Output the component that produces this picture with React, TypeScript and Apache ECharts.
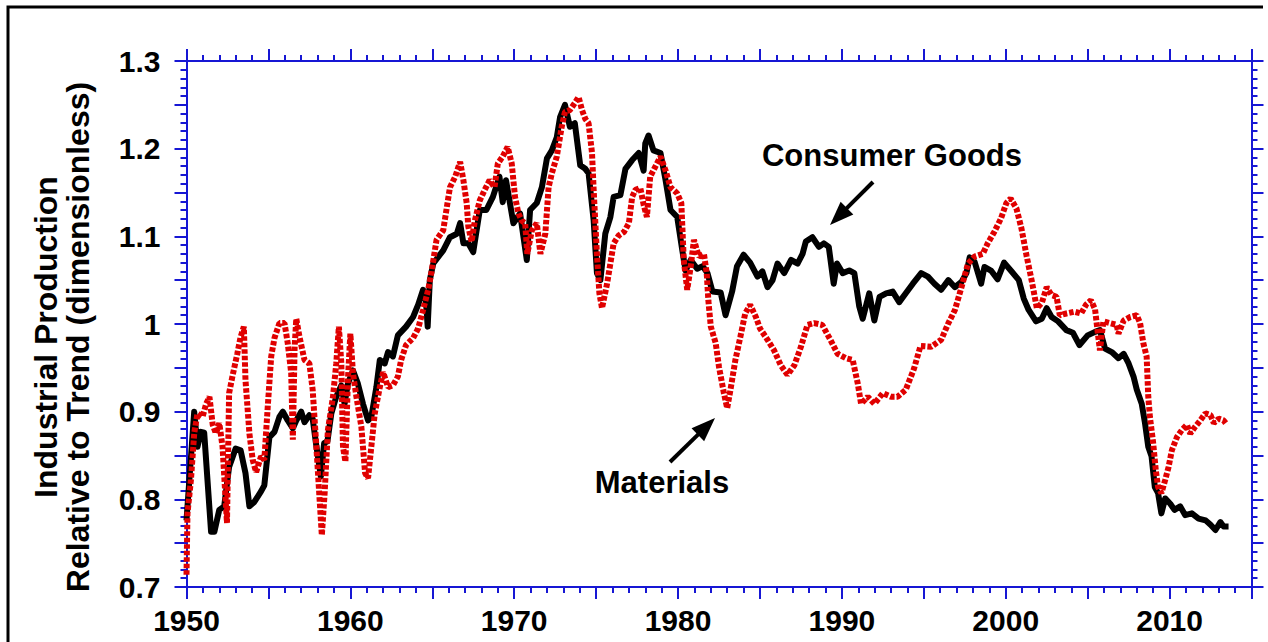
import React, { useEffect, useRef } from "react";
import * as echarts from "echarts";

// ---- Data (year, value) ----
const consumerGoods: [number, number][] = [
  [1950.0, 0.776], [1950.47, 0.9], [1950.67, 0.86], [1950.88, 0.877], [1951.08, 0.876],
  [1951.5, 0.763], [1951.7, 0.763], [1952.0, 0.788], [1952.3, 0.792], [1952.6, 0.837],
  [1953.0, 0.858], [1953.3, 0.856], [1953.6, 0.83], [1953.84, 0.792], [1954.14, 0.797],
  [1954.55, 0.809], [1954.75, 0.816], [1955.06, 0.871], [1955.37, 0.877], [1955.67, 0.894],
  [1955.88, 0.9], [1956.18, 0.89], [1956.49, 0.881], [1956.7, 0.89], [1957.0, 0.9],
  [1957.2, 0.888], [1957.5, 0.896], [1957.7, 0.892], [1957.9, 0.864], [1958.2, 0.826],
  [1958.4, 0.864], [1958.6, 0.866], [1958.84, 0.898], [1959.14, 0.917], [1959.45, 0.93],
  [1959.65, 0.909], [1959.85, 0.932], [1960.16, 0.947], [1960.46, 0.932], [1960.77, 0.909],
  [1961.08, 0.89], [1961.28, 0.894], [1961.59, 0.928], [1961.8, 0.959], [1962.1, 0.955],
  [1962.3, 0.968], [1962.6, 0.963], [1962.9, 0.987], [1963.4, 0.997], [1963.83, 1.008],
  [1964.14, 1.022], [1964.44, 1.039], [1964.6, 1.03], [1964.72, 0.997], [1964.85, 1.05],
  [1965.06, 1.069], [1965.67, 1.084], [1966.08, 1.099], [1966.5, 1.103], [1966.7, 1.115],
  [1966.9, 1.092], [1967.2, 1.092], [1967.5, 1.082], [1967.9, 1.13], [1968.3, 1.13],
  [1968.7, 1.145], [1969.1, 1.168], [1969.3, 1.139], [1969.5, 1.164], [1969.95, 1.115],
  [1970.36, 1.126], [1970.77, 1.073], [1970.97, 1.13], [1971.38, 1.138], [1971.69, 1.156],
  [1972.0, 1.189], [1972.3, 1.198], [1972.6, 1.213], [1972.8, 1.236], [1973.1, 1.25],
  [1973.4, 1.225], [1973.7, 1.229], [1974.03, 1.181], [1974.34, 1.177], [1974.54, 1.172],
  [1974.85, 1.118], [1975.05, 1.058], [1975.26, 1.05], [1975.56, 1.103], [1975.87, 1.122],
  [1976.07, 1.145], [1976.48, 1.147], [1976.79, 1.177], [1977.2, 1.187], [1977.6, 1.195],
  [1977.9, 1.175], [1978.0, 1.206], [1978.2, 1.215], [1978.5, 1.198], [1978.93, 1.195],
  [1979.24, 1.164], [1979.54, 1.13], [1979.95, 1.122], [1980.26, 1.084], [1980.46, 1.061],
  [1980.77, 1.073], [1981.17, 1.063], [1981.5, 1.066], [1981.8, 1.058], [1982.1, 1.037],
  [1982.6, 1.036], [1982.9, 1.01], [1983.3, 1.037], [1983.6, 1.066], [1984.0, 1.079],
  [1984.4, 1.07], [1984.85, 1.054], [1985.15, 1.06], [1985.46, 1.042], [1985.77, 1.05],
  [1986.07, 1.069], [1986.48, 1.058], [1986.9, 1.073], [1987.3, 1.069], [1987.6, 1.08],
  [1987.8, 1.094], [1988.2, 1.099], [1988.6, 1.088], [1988.9, 1.092], [1989.2, 1.088],
  [1989.5, 1.046], [1989.7, 1.069], [1990.05, 1.058], [1990.45, 1.061], [1990.76, 1.058],
  [1991.06, 1.02], [1991.27, 1.006], [1991.67, 1.035], [1991.98, 1.004], [1992.3, 1.031],
  [1992.7, 1.035], [1993.1, 1.037], [1993.5, 1.025], [1993.9, 1.035], [1994.33, 1.046],
  [1994.84, 1.058], [1995.25, 1.054], [1995.65, 1.046], [1996.06, 1.039], [1996.5, 1.05],
  [1996.9, 1.042], [1997.3, 1.048], [1997.6, 1.058], [1997.8, 1.076], [1998.1, 1.071],
  [1998.5, 1.046], [1998.7, 1.065], [1999.1, 1.061], [1999.5, 1.051], [1999.9, 1.07],
  [2000.4, 1.059], [2000.8, 1.05], [2001.1, 1.029], [2001.4, 1.016], [2001.85, 1.003],
  [2002.2, 1.006], [2002.5, 1.018], [2002.8, 1.008], [2003.2, 1.003], [2003.7, 0.993],
  [2004.1, 0.99], [2004.5, 0.976], [2005.0, 0.987], [2005.45, 0.991], [2005.75, 0.993],
  [2006.06, 0.972], [2006.47, 0.968], [2006.88, 0.961], [2007.2, 0.966], [2007.5, 0.955],
  [2007.8, 0.94], [2008.0, 0.925], [2008.3, 0.909], [2008.5, 0.887], [2008.7, 0.86],
  [2008.9, 0.849], [2009.1, 0.814], [2009.3, 0.807], [2009.5, 0.784], [2009.73, 0.801],
  [2010.04, 0.795], [2010.3, 0.788], [2010.65, 0.792], [2010.95, 0.782], [2011.36, 0.784],
  [2011.77, 0.778], [2012.2, 0.776], [2012.5, 0.771], [2012.8, 0.765], [2013.1, 0.774],
  [2013.3, 0.769], [2013.6, 0.769],
];

const materials: [number, number][] = [
  [1950.0, 0.714], [1950.06, 0.784], [1950.27, 0.822], [1950.47, 0.875], [1950.67, 0.898],
  [1950.98, 0.894], [1951.2, 0.909], [1951.4, 0.917], [1951.6, 0.885], [1951.8, 0.875],
  [1952.0, 0.887], [1952.2, 0.86], [1952.47, 0.773], [1952.6, 0.921], [1952.8, 0.94],
  [1953.1, 0.966], [1953.3, 0.985], [1953.5, 0.997], [1953.6, 0.936], [1953.84, 0.875],
  [1954.04, 0.845], [1954.25, 0.831], [1954.55, 0.849], [1954.75, 0.845], [1954.96, 0.906],
  [1955.17, 0.963], [1955.37, 0.984], [1955.67, 1.001], [1955.98, 1.001], [1956.18, 0.978],
  [1956.39, 0.944], [1956.49, 0.868], [1956.6, 0.974], [1956.7, 1.006], [1956.9, 0.985],
  [1957.2, 0.959], [1957.5, 0.955], [1957.7, 0.925], [1957.9, 0.868], [1958.1, 0.807],
  [1958.26, 0.759], [1958.43, 0.807], [1958.63, 0.879], [1958.94, 0.917], [1959.14, 0.955],
  [1959.3, 0.997], [1959.45, 0.955], [1959.55, 0.86], [1959.7, 0.843], [1959.85, 0.936],
  [1960.0, 0.989], [1960.16, 0.944], [1960.37, 0.917], [1960.67, 0.883], [1960.9, 0.83],
  [1961.08, 0.824], [1961.28, 0.86], [1961.49, 0.898], [1961.8, 0.928], [1962.0, 0.945],
  [1962.3, 0.928], [1962.6, 0.93], [1962.9, 0.94], [1963.1, 0.959], [1963.4, 0.976],
  [1963.83, 0.984], [1964.14, 0.995], [1964.44, 1.016], [1964.75, 1.039], [1964.96, 1.06],
  [1965.26, 1.096], [1965.67, 1.107], [1966.08, 1.156], [1966.4, 1.168], [1966.7, 1.185],
  [1966.9, 1.164], [1967.1, 1.138], [1967.2, 1.111], [1967.4, 1.094], [1967.6, 1.118],
  [1967.9, 1.141], [1968.2, 1.153], [1968.5, 1.164], [1968.8, 1.156], [1969.0, 1.183],
  [1969.3, 1.191], [1969.6, 1.202], [1969.85, 1.183], [1970.05, 1.145], [1970.26, 1.126],
  [1970.46, 1.118], [1970.67, 1.115], [1970.8, 1.08], [1971.08, 1.107], [1971.38, 1.115],
  [1971.6, 1.08], [1971.9, 1.103], [1972.1, 1.156], [1972.3, 1.172], [1972.6, 1.191],
  [1972.9, 1.225], [1973.1, 1.242], [1973.4, 1.244], [1973.7, 1.252], [1973.93, 1.259],
  [1974.14, 1.244], [1974.34, 1.234], [1974.54, 1.229], [1974.75, 1.195], [1974.85, 1.153],
  [1975.05, 1.08], [1975.2, 1.035], [1975.36, 1.018], [1975.67, 1.046], [1975.87, 1.069],
  [1976.07, 1.092], [1976.38, 1.101], [1976.7, 1.105], [1977.0, 1.115], [1977.2, 1.145],
  [1977.4, 1.153], [1977.7, 1.155], [1977.9, 1.136], [1978.1, 1.122], [1978.3, 1.168],
  [1978.6, 1.179], [1978.93, 1.191], [1979.24, 1.175], [1979.54, 1.156], [1979.95, 1.149],
  [1980.2, 1.138], [1980.35, 1.073], [1980.56, 1.039], [1980.77, 1.065], [1980.97, 1.096],
  [1981.27, 1.077], [1981.58, 1.08], [1981.75, 1.058], [1981.85, 1.027], [1982.0, 0.997],
  [1982.3, 0.978], [1982.5, 0.951], [1982.8, 0.921], [1983.0, 0.904], [1983.2, 0.925],
  [1983.5, 0.959], [1983.8, 0.985], [1984.1, 1.012], [1984.4, 1.022], [1984.75, 1.008],
  [1985.0, 0.995], [1985.46, 0.982], [1985.86, 0.97], [1986.27, 0.953], [1986.68, 0.942],
  [1987.1, 0.953], [1987.5, 0.974], [1987.9, 0.999], [1988.3, 1.001], [1988.8, 0.999],
  [1989.3, 0.982], [1989.74, 0.966], [1990.25, 0.961], [1990.66, 0.959], [1990.97, 0.932],
  [1991.17, 0.909], [1991.58, 0.917], [1991.98, 0.909], [1992.5, 0.921], [1993.0, 0.917],
  [1993.4, 0.917], [1993.9, 0.925], [1994.4, 0.949], [1994.8, 0.975], [1995.45, 0.974],
  [1996.06, 0.982], [1996.5, 1.001], [1996.9, 1.016], [1997.3, 1.042], [1997.7, 1.069],
  [1998.1, 1.077], [1998.6, 1.08], [1998.9, 1.092], [1999.3, 1.105], [1999.7, 1.12],
  [2000.04, 1.138], [2000.3, 1.143], [2000.65, 1.132], [2000.96, 1.109], [2001.27, 1.078],
  [2001.6, 1.048], [2001.9, 1.018], [2002.2, 1.024], [2002.5, 1.042], [2002.8, 1.033],
  [2003.1, 1.031], [2003.3, 1.01], [2003.7, 1.012], [2004.2, 1.014], [2004.6, 1.012],
  [2004.9, 1.022], [2005.2, 1.027], [2005.45, 1.017], [2005.65, 0.985], [2005.75, 0.97],
  [2005.96, 1.003], [2006.37, 1.001], [2006.77, 0.999], [2006.88, 0.989], [2007.2, 1.004],
  [2007.6, 1.008], [2008.0, 1.01], [2008.2, 1.001], [2008.4, 0.978], [2008.6, 0.963],
  [2008.7, 0.917], [2008.8, 0.894], [2009.0, 0.864], [2009.16, 0.833], [2009.3, 0.814],
  [2009.5, 0.807], [2009.73, 0.822], [2009.94, 0.837], [2010.14, 0.856], [2010.45, 0.871],
  [2010.75, 0.879], [2011.06, 0.885], [2011.26, 0.875], [2011.57, 0.883], [2011.87, 0.89],
  [2012.18, 0.898], [2012.5, 0.896], [2012.7, 0.887], [2013.0, 0.892], [2013.3, 0.89],
  [2013.5, 0.885],
];

const xRange = { min: 1950, max: 2015, labelStep: 10, tickStep: 5 };
const yRange = { min: 0.7, max: 1.3, labelStep: 0.1, tickStep: 0.05 };
const yTitleLines = ["Industrial Production", "Relative to Trend (dimensionless)"];
const annotationLabels = { consumer: "Consumer Goods", materials: "Materials" };

const AXIS_BLUE = "#1717d4";
const FONT = "Liberation Sans, Arial, Helvetica, sans-serif";

function xLabel(v: number) {
  return Math.abs(v % xRange.labelStep) < 1e-6 ? String(Math.round(v)) : "";
}
function yLabel(v: number) {
  const k = v / yRange.labelStep;
  if (Math.abs(k - Math.round(k)) > 1e-6) return "";
  return String(Math.round(v * 10) / 10);
}

function makeXAxis(position: "bottom" | "top", showLabel: boolean) {
  return {
    type: "value",
    position,
    min: xRange.min,
    max: xRange.max,
    interval: xRange.tickStep,
    axisLine: { show: true, onZero: false, lineStyle: { color: AXIS_BLUE, width: 2 } },
    axisTick: { show: true, length: 12, lineStyle: { color: AXIS_BLUE, width: 2 } },
    minorTick: { show: true, splitNumber: 5, length: 6, lineStyle: { color: AXIS_BLUE, width: 2 } },
    splitLine: { show: false },
    minorSplitLine: { show: false },
    axisLabel: {
      show: showLabel,
      formatter: xLabel,
      color: "#000",
      fontFamily: FONT,
      fontWeight: "bold",
      fontSize: 30,
      margin: 18,
    },
  };
}

function makeYAxis(position: "left" | "right", showLabel: boolean) {
  return {
    type: "value",
    position,
    min: yRange.min,
    max: yRange.max,
    interval: yRange.tickStep,
    axisLine: { show: true, onZero: false, lineStyle: { color: AXIS_BLUE, width: 2 } },
    axisTick: { show: true, length: 12, lineStyle: { color: AXIS_BLUE, width: 2 } },
    minorTick: { show: true, splitNumber: 5, length: 6, lineStyle: { color: AXIS_BLUE, width: 2 } },
    splitLine: { show: false },
    minorSplitLine: { show: false },
    axisLabel: {
      show: showLabel,
      formatter: yLabel,
      color: "#000",
      fontFamily: FONT,
      fontWeight: "bold",
      fontSize: 30,
      margin: 26,
    },
  };
}

function arrow(tail: [number, number], tip: [number, number], headLen: number, halfW: number) {
  const dx = tip[0] - tail[0];
  const dy = tip[1] - tail[1];
  const len = Math.hypot(dx, dy);
  const ux = dx / len;
  const uy = dy / len;
  const bx = tip[0] - ux * headLen;
  const by = tip[1] - uy * headLen;
  const px = -uy;
  const py = ux;
  return [
    {
      type: "line",
      shape: { x1: tail[0], y1: tail[1], x2: bx + ux * 2, y2: by + uy * 2 },
      style: { stroke: "#000", lineWidth: 4 },
    },
    {
      type: "polygon",
      shape: {
        points: [
          [tip[0], tip[1]],
          [bx + px * halfW, by + py * halfW],
          [bx - px * halfW, by - py * halfW],
        ],
      },
      style: { fill: "#000" },
    },
  ];
}

export default function App() {
  const ref = useRef<HTMLDivElement>(null);

  useEffect(() => {
    document.body.style.margin = "0";
    const chart = echarts.init(ref.current!, null, { renderer: "svg" });
    const option: any = {
      animation: false,
      backgroundColor: "#fff",
      grid: { left: 186.5, top: 61, width: 1065, height: 526, containLabel: false },
      xAxis: [makeXAxis("bottom", true), makeXAxis("top", false)],
      yAxis: [makeYAxis("left", true), makeYAxis("right", false)],
      series: [
        {
          name: annotationLabels.consumer,
          type: "line",
          xAxisIndex: 0,
          yAxisIndex: 0,
          data: consumerGoods,
          showSymbol: false,
          symbol: "none",
          lineStyle: { color: "#000", width: 6, join: "round" },
          z: 2,
        },
        {
          name: annotationLabels.materials,
          type: "line",
          xAxisIndex: 0,
          yAxisIndex: 0,
          data: materials,
          showSymbol: false,
          symbol: "none",
          lineStyle: { color: "#e00000", width: 6, type: [4.5, 2], cap: "butt" },
          z: 3,
        },
      ],
      graphic: [
        {
          type: "polyline",
          shape: { points: [[8, 642], [8, 7], [1263, 7]] },
          style: { stroke: "#000", lineWidth: 3, fill: null },
          silent: true,
        },
        {
          type: "text",
          x: 46,
          y: 337,
          rotation: Math.PI / 2,
          style: {
            text: yTitleLines[0],
            font: `bold 32px ${FONT}`,
            fill: "#000",
            textAlign: "center",
            textVerticalAlign: "middle",
          },
        },
        {
          type: "text",
          x: 78,
          y: 337,
          rotation: Math.PI / 2,
          style: {
            text: yTitleLines[1],
            font: `bold 32px ${FONT}`,
            fill: "#000",
            textAlign: "center",
            textVerticalAlign: "middle",
          },
        },
        {
          type: "text",
          x: 892,
          y: 155,
          style: {
            text: annotationLabels.consumer,
            font: `bold 31px ${FONT}`,
            fill: "#000",
            textAlign: "center",
            textVerticalAlign: "middle",
          },
        },
        {
          type: "text",
          x: 662,
          y: 482,
          style: {
            text: annotationLabels.materials,
            font: `bold 31px ${FONT}`,
            fill: "#000",
            textAlign: "center",
            textVerticalAlign: "middle",
          },
        },
        ...arrow([873, 182], [830, 225], 24, 9),
        ...arrow([670, 462], [715, 418], 24, 9),
      ],
    };
    chart.setOption(option);
    return () => chart.dispose();
  }, []);

  return (
    <div
      ref={ref}
      style={{ position: "absolute", left: 0, top: 0, width: 1268, height: 642 }}
    />
  );
}
